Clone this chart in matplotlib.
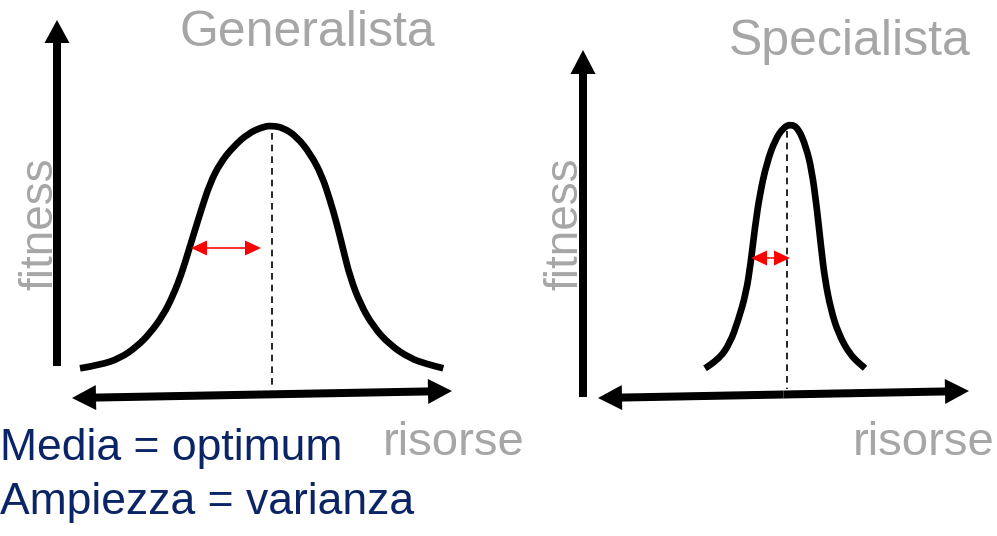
"""
Generalista vs Specialista: fitness curves over risorse.
Output: out.png (997x536)
"""

import matplotlib.pyplot as plt
from matplotlib.patches import FancyArrow, PathPatch
from matplotlib.path import Path

# ── data (pixel space) ────────────────────────────────────────────────────────
gen_x = [80, 100, 120, 136.7, 150, 163.3, 173.3, 181.7, 188.3, 195, 201.7, 210,
         220, 233.3, 248.3, 263.3, 271.7, 283.3, 296.7, 310, 321.7, 330, 336.7,
         343.3, 350, 360, 373.3, 390, 410, 426.7, 443.3]
gen_y = [368.3, 365, 358.3, 346.7, 333.3, 315, 295, 273.3, 251.7, 230, 208.3,
         183.3, 163.3, 146.7, 133.3, 126.7, 125.7, 127.7, 136.7, 153.3, 175, 200,
         223.3, 250, 276.7, 303.3, 326.7, 345, 358.3, 364, 368.3]

spec_x = [705, 718.3, 730, 738.3, 746, 750.7, 755, 760, 766.7, 775, 783.3, 790.7,
          798.3, 806, 811.7, 816.7, 821, 825, 831, 838.3, 850, 865]
spec_y = [368.3, 360, 343.3, 320, 293.3, 263.3, 226.7, 193.3, 163.3, 140, 127.7,
          124, 128.3, 146.7, 170, 206.7, 246.7, 280, 310, 333.3, 355, 368.3]

titles = ["Generalista", "Specialista"]
y_label = "fitness"
x_label = "risorse"
notes = ["Media = optimum", "Ampiezza = varianza"]

GRAY = "#A6A6A6"
NAVY = "#0B2466"
FONT = "Liberation Sans"

fig = plt.figure(figsize=(9.97, 5.36), dpi=100)
ax = fig.add_axes([0, 0, 1, 1])
ax.set_xlim(0, 997)
ax.set_ylim(536, 0)
ax.axis("off")


def arrow(x0, y0, x1, y1, w, hw, hl, color="black"):
    ax.add_patch(FancyArrow(x0, y0, x1 - x0, y1 - y0, width=w, head_width=hw,
                            head_length=hl, length_includes_head=True,
                            color=color, lw=0))


def double_arrow(x0, y0, x1, y1, w, hw, hl, color="black"):
    mx, my = (x0 + x1) / 2, (y0 + y1) / 2
    arrow(mx, my, x0, y0, w, hw, hl, color)
    arrow(mx, my, x1, y1, w, hw, hl, color)


def smooth_curve(xs, ys):
    # quadratic bezier through the read points (points act as control points)
    pts = list(zip(xs, ys))
    verts = [pts[0]]
    codes = [Path.MOVETO]
    for i in range(1, len(pts) - 1):
        mid = ((pts[i][0] + pts[i + 1][0]) / 2, (pts[i][1] + pts[i + 1][1]) / 2)
        verts += [pts[i], mid]
        codes += [Path.CURVE3, Path.CURVE3]
    verts.append(pts[-1])
    codes.append(Path.LINETO)
    ax.add_patch(PathPatch(Path(verts, codes), fill=False, lw=4.8,
                           edgecolor="black", capstyle="butt", joinstyle="round"))


# ── Generalista ───────────────────────────────────────────────────────────────
arrow(57, 366, 57, 20, 8, 25, 23)
double_arrow(72, 398, 452, 391, 8, 25, 24)
smooth_curve(gen_x, gen_y)
ax.plot([272, 272], [133, 389], color="black", lw=1.2, ls=(0, (4, 3)))
double_arrow(191, 248, 261, 248, 1.6, 15, 16, color="red")

ax.text(307, 46, titles[0], color=GRAY, fontsize=36, family=FONT,
        ha="center", va="baseline")
ax.text(52, 224, y_label, color=GRAY, fontsize=33, family=FONT,
        rotation=90, ha="center", va="baseline", rotation_mode="anchor")
ax.text(383, 455, x_label, color=GRAY, fontsize=34, family=FONT,
        ha="left", va="baseline")

# ── Specialista ───────────────────────────────────────────────────────────────
arrow(583, 397, 583, 50, 8, 25, 24)
double_arrow(598, 398, 969, 391, 8, 25, 24)
smooth_curve(spec_x, spec_y)
ax.plot([787, 787], [131, 389], color="black", lw=1.2, ls=(0, (4, 3)))
double_arrow(751, 258, 790, 258, 1.6, 15, 16, color="red")

ax.text(850, 55, titles[1], color=GRAY, fontsize=36, family=FONT,
        ha="center", va="baseline")
ax.text(577, 224, y_label, color=GRAY, fontsize=33, family=FONT,
        rotation=90, ha="center", va="baseline", rotation_mode="anchor")
ax.text(853, 455, x_label, color=GRAY, fontsize=34, family=FONT,
        ha="left", va="baseline")

# ── notes ─────────────────────────────────────────────────────────────────────
ax.text(0, 460, notes[0], color=NAVY, fontsize=32, family=FONT,
        ha="left", va="baseline")
ax.text(0, 514, notes[1], color=NAVY, fontsize=32, family=FONT,
        ha="left", va="baseline")

fig.savefig("out.png", dpi=100)
